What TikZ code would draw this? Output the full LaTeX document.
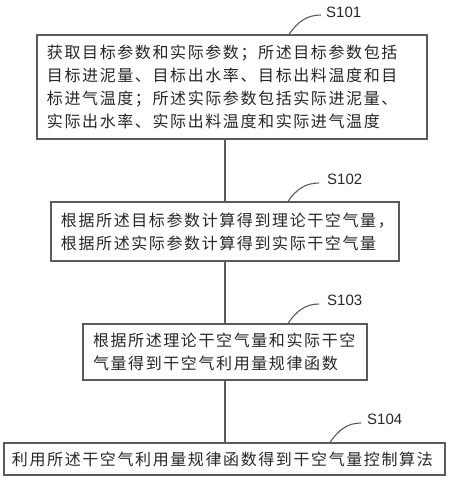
\documentclass[tikz,border=0pt]{standalone}
\usepackage{fontspec}
\setmainfont{Liberation Sans}
\newfontfamily\cjk[LetterSpace=10]{Noto Sans CJK SC}
\definecolor{edgegray}{RGB}{90,90,90}
\tikzset{
  stepbox/.style={draw=edgegray, line width=1.3pt, align=left, text width=#1, inner xsep=10bp, inner ysep=0pt,
    font=\cjk\fontsize{16bp}{23bp}\selectfont, text=black!85},
  steplabel/.style={anchor=west, inner sep=0pt, font=\fontsize{15bp}{17bp}\selectfont, text=black!85},
  flowline/.style={draw=edgegray, line width=1.3pt},
  tagline/.style={draw=edgegray, line width=1.1pt}
}
\begin{document}
\begin{tikzpicture}[x=1bp, y=-1bp]
    \useasboundingbox (0,0) rectangle (450,479);
    % steps
    \node[stepbox=370bp, minimum height=104bp] (s101) at (232,87) {获取目标参数和实际参数；所述目标参数包括\\目标进泥量、目标出水率、目标出料温度和目\\标进气温度；所述实际参数包括实际进泥量、\\实际出水率、实际出料温度和实际进气温度};
    \node[stepbox=328bp, minimum height=59bp] (s102) at (225,231.5) {根据所述目标参数计算得到理论干空气量，\\根据所述实际参数计算得到实际干空气量};
    \node[stepbox=264bp, minimum height=56bp] (s103) at (225,352) {根据所述理论干空气量和实际干空\\气量得到干空气利用量规律函数};
    \node[stepbox=425bp, inner xsep=8bp, minimum height=32bp] (s104) at (224.5,459) {利用所述干空气利用量规律函数得到干空气量控制算法};
    % labels
    \node[steplabel] (l101) at (326,12) {S101};
    \node[steplabel] (l102) at (327,179) {S102};
    \node[steplabel] (l103) at (327,300) {S103};
    \node[steplabel] (l104) at (367,419) {S104};
    % connectors
    \draw[flowline] (s102.north |- s101.south) -- (s102.north);
    \draw[flowline] (s102.south) -- (s103.north);
    \draw[flowline] (s103.south) -- (s103.south |- s104.north);
    \draw[tagline] ([xshift=57bp]s101.north) to[out=55, in=180] ([xshift=-5bp,yshift=-3bp]l101.west);
    \draw[tagline] ([xshift=63bp]s102.north) to[out=55, in=180] ([xshift=-8bp,yshift=-4bp]l102.west);
    \draw[tagline] ([xshift=63bp]s103.north) to[out=55, in=180] ([xshift=-8bp,yshift=-4bp]l103.west);
    \draw[tagline] ([xshift=105.5bp]s104.north) to[out=55, in=180] ([xshift=-6bp,yshift=-4bp]l104.west);
\end{tikzpicture}
\end{document}
